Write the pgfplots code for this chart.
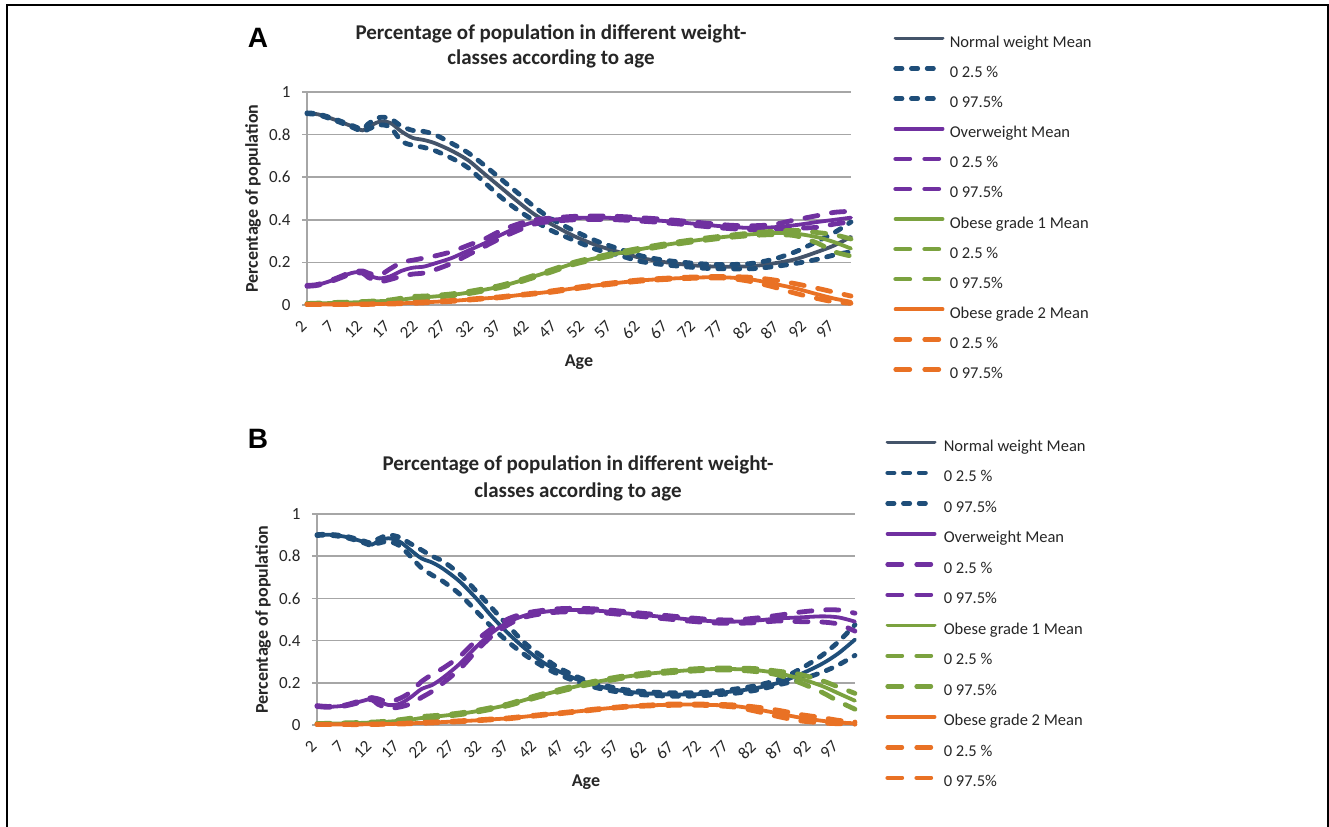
\documentclass[border=0pt]{standalone}
\usepackage{pgfplots}
\usepackage{pgfplotstable}
\pgfplotsset{compat=1.18}
\usepackage{fontspec}
\setmainfont{Carlito}
\newfontfamily\arialfont{Liberation Sans}

\definecolor{nmean}{HTML}{44546A}
\definecolor{nblue}{HTML}{1F4E79}
\definecolor{opurp}{HTML}{7030A0}
\definecolor{ggreen}{HTML}{7BA23F}
\definecolor{rorange}{HTML}{E97124}
\definecolor{gridc}{HTML}{A6A6A6}
\definecolor{txt}{HTML}{262626}

% age, normal mean/low/up, overweight mean/low/up, obese1 mean/low/up, obese2 mean/low/up
\pgfplotstableread{
age nm nl nu om ol ou gm gl gu rm rl ru
2 .900 .898 .902 .090 .088 .092 .005 .003 .007 .003 .002 .004
4 .895 .893 .897 .095 .093 .097 .007 .005 .009 .003 .002 .004
7 .870 .867 .873 .120 .117 .123 .010 .008 .012 .003 .002 .004
10 .840 .836 .844 .150 .146 .154 .012 .010 .014 .003 .002 .004
12 .820 .815 .826 .155 .150 .160 .014 .012 .016 .004 .003 .005
13 .835 .825 .850 .140 .130 .150 .015 .013 .017 .004 .003 .005
15 .860 .845 .880 .125 .110 .140 .018 .015 .021 .005 .004 .006
17 .855 .835 .875 .135 .120 .170 .020 .017 .024 .006 .005 .007
19 .815 .770 .840 .160 .135 .200 .025 .020 .032 .008 .006 .010
21 .785 .750 .820 .175 .145 .210 .032 .025 .040 .010 .008 .012
23 .775 .740 .815 .180 .150 .220 .036 .030 .042 .012 .010 .014
25 .760 .725 .800 .195 .165 .230 .040 .036 .045 .015 .013 .017
28 .725 .690 .760 .220 .195 .250 .047 .043 .052 .019 .017 .021
31 .680 .645 .715 .255 .235 .280 .058 .053 .063 .025 .023 .027
34 .615 .575 .655 .290 .275 .310 .072 .067 .077 .031 .029 .033
37 .550 .505 .590 .330 .315 .350 .088 .083 .093 .037 .035 .039
40 .485 .445 .525 .365 .350 .380 .110 .105 .115 .046 .044 .048
43 .425 .395 .460 .390 .380 .400 .135 .130 .140 .054 .052 .056
46 .380 .350 .405 .400 .392 .408 .160 .155 .165 .063 .060 .066
50 .325 .305 .350 .408 .400 .416 .195 .190 .200 .078 .075 .081
54 .282 .262 .302 .410 .402 .418 .220 .215 .225 .092 .089 .095
58 .250 .235 .265 .408 .400 .416 .242 .237 .247 .104 .101 .107
62 .222 .205 .232 .402 .394 .410 .262 .257 .267 .115 .112 .118
66 .203 .190 .212 .395 .387 .403 .280 .275 .285 .122 .119 .125
70 .190 .180 .200 .386 .378 .394 .296 .291 .301 .127 .124 .130
74 .182 .172 .192 .376 .368 .384 .310 .305 .315 .130 .127 .133
78 .180 .170 .190 .367 .359 .375 .322 .317 .327 .129 .125 .133
82 .182 .170 .195 .362 .354 .372 .332 .326 .338 .120 .110 .130
86 .195 .180 .215 .365 .355 .378 .338 .330 .346 .100 .085 .118
90 .215 .195 .250 .375 .360 .400 .335 .325 .350 .078 .055 .100
94 .250 .215 .300 .390 .365 .420 .318 .290 .340 .050 .030 .078
97 .280 .235 .340 .400 .380 .435 .295 .250 .330 .030 .015 .060
100 .320 .250 .390 .410 .390 .440 .265 .230 .310 .015 .008 .042
}\dataA

\pgfplotstableread{
age nm nl nu om ol ou gm gl gu rm rl ru
2 .900 .898 .902 .090 .088 .092 .005 .003 .007 .003 .002 .004
4 .902 .900 .904 .086 .084 .088 .006 .004 .008 .003 .002 .004
7 .893 .890 .896 .092 .090 .094 .008 .006 .010 .003 .002 .004
10 .872 .868 .876 .112 .108 .116 .010 .008 .012 .003 .002 .004
12 .855 .850 .862 .125 .120 .130 .012 .010 .014 .004 .003 .005
13 .870 .860 .880 .115 .100 .125 .013 .011 .015 .004 .003 .005
15 .885 .870 .900 .095 .080 .110 .016 .013 .019 .005 .004 .006
17 .870 .850 .890 .100 .085 .125 .020 .016 .025 .006 .005 .007
19 .830 .800 .860 .130 .100 .155 .025 .020 .032 .008 .006 .010
21 .790 .745 .830 .170 .130 .205 .033 .026 .040 .010 .008 .012
23 .770 .710 .800 .190 .160 .240 .038 .032 .044 .012 .010 .014
25 .740 .680 .775 .225 .200 .270 .044 .040 .048 .014 .012 .016
28 .680 .620 .715 .290 .265 .325 .053 .049 .057 .018 .016 .020
31 .600 .540 .635 .370 .350 .400 .065 .061 .069 .022 .020 .024
34 .510 .460 .550 .440 .425 .460 .080 .076 .084 .027 .025 .029
37 .430 .390 .465 .490 .478 .505 .097 .093 .101 .032 .030 .034
40 .360 .330 .385 .520 .512 .530 .120 .115 .125 .040 .038 .042
43 .300 .280 .325 .535 .527 .543 .142 .137 .147 .048 .046 .050
46 .255 .240 .272 .543 .535 .551 .162 .157 .167 .055 .053 .057
50 .210 .198 .222 .545 .537 .553 .188 .183 .193 .066 .064 .068
54 .180 .170 .190 .540 .532 .548 .210 .205 .215 .077 .075 .079
58 .160 .152 .168 .530 .522 .538 .228 .223 .233 .086 .084 .088
62 .150 .142 .158 .520 .512 .528 .242 .237 .247 .092 .090 .094
66 .145 .137 .153 .510 .502 .518 .252 .247 .257 .096 .093 .099
70 .145 .137 .153 .500 .492 .508 .260 .255 .265 .097 .094 .100
74 .150 .142 .158 .492 .484 .500 .265 .260 .270 .095 .092 .098
78 .160 .150 .170 .490 .482 .498 .265 .260 .270 .090 .085 .095
82 .175 .165 .187 .495 .485 .507 .260 .253 .267 .075 .065 .085
86 .200 .190 .215 .505 .493 .520 .245 .237 .255 .055 .040 .070
90 .240 .215 .265 .510 .490 .535 .220 .200 .240 .035 .020 .050
94 .290 .250 .330 .515 .488 .545 .185 .155 .210 .020 .010 .035
97 .340 .285 .395 .510 .478 .545 .150 .112 .180 .012 .006 .022
100 .405 .330 .475 .490 .445 .530 .115 .075 .150 .008 .004 .014
}\dataB

\pgfplotsset{
  meanline/.style={line width=1.9pt, line cap=round, smooth, tension=0.5},
  ndash/.style={line width=2.4pt, line cap=round, dash pattern=on 3.1pt off 4.75pt, smooth, tension=0.5},
  odash/.style={line width=2.4pt, line cap=round, dash pattern=on 6.6pt off 6.9pt, smooth, tension=0.5},
  lgmean/.style={line width=1.9pt, line cap=round},
  lgndash/.style={line width=2.2pt, line cap=round, dash pattern=on 3.3pt off 4.55pt},
  lgodash/.style={line width=2.2pt, line cap=round, dash pattern=on 7.2pt off 7.3pt},
  panel/.style={
    scale only axis, clip=false,
    xmin=2, xmax=100, ymin=0, ymax=1,
    axis lines=left,
    axis line style={draw=gridc, line width=0.75pt, -},
    ymajorgrids, grid style={draw=gridc, line width=0.75pt},
    xtick={2,7,...,97}, ytick={0,0.2,...,1},
    tick align=outside,
    major tick length=2.5pt,
    xtick style={draw=none},
    ytick style={draw=gridc, line width=0.75pt},
    /pgf/number format/assume math mode=true,
    tick label style={font=\fontsize{8.5}{9}\selectfont, text=txt},
    yticklabel style={inner sep=0pt, xshift=-5.5pt},
    xticklabel style={xshift=-1.5pt, yshift=-6.8pt, rotate=45, anchor=east, inner sep=0pt},
    ylabel={Percentage of population},
    xlabel={Age},
    legend cell align=left,
    legend image code/.code={\draw[##1] (0pt,2.5pt) -- (23.5pt,2.5pt);},
  },
}

\begin{document}
\begin{tikzpicture}
% frame, titles, panel letters (pixel units)
\begin{scope}[x=0.5pt,y=-0.5pt]
\useasboundingbox (0,0) rectangle (1329,826);
\draw[line width=1.35pt, black] (7,830) -- (7,5) -- (1328,5) -- (1328,830);
\node[font=\arialfont\bfseries\fontsize{14}{16}\selectfont] at (258,38) {A};
\node[font=\arialfont\bfseries\fontsize{14}{16}\selectfont] at (258,439) {B};
\node[font=\bfseries\fontsize{10.5}{12.5}\selectfont, text=txt, align=center] at (551,46) {Percentage of population in different weight-\\classes according to age};
\node[font=\bfseries\fontsize{10.5}{13.5}\selectfont, text=txt, align=center] at (578,478) {Percentage of population in different weight-\\classes according to age};
\end{scope}

% ---------------- Panel A ----------------
\begin{axis}[panel,
  at={(153.5pt,-152.5pt)}, anchor=south west,
  width=272pt, height=106.5pt,
  every axis y label/.style={at={(axis description cs:-0.0993,0.5)}, rotate=90, anchor=center, font=\bfseries\fontsize{9}{10}\selectfont, text=txt},
  every axis x label/.style={at={(axis description cs:0.5,-0.27)}, anchor=center, font=\bfseries\fontsize{9}{10}\selectfont, text=txt},
  legend style={at={(1.0772,1.2676)}, anchor=north west, draw=none, fill=none,
    inner sep=0pt, row sep=7.05pt, column sep=2.5pt,
    font=\fontsize{8.25}{9}\selectfont, text=txt,
    nodes={inner sep=0pt, text height=6pt, text depth=2pt}},
]
\addlegendimage{nmean, lgmean}
\addlegendentry{Normal weight Mean}
\addlegendimage{nblue, lgndash}
\addlegendentry{0 2.5 \%}
\addlegendimage{nblue, lgndash}
\addlegendentry{0 97.5\%}
\addlegendimage{opurp, lgmean}
\addlegendentry{Overweight Mean}
\addlegendimage{opurp, lgodash}
\addlegendentry{0 2.5 \%}
\addlegendimage{opurp, lgodash}
\addlegendentry{0 97.5\%}
\addlegendimage{ggreen, lgmean}
\addlegendentry{Obese grade 1 Mean}
\addlegendimage{ggreen, lgodash}
\addlegendentry{0 2.5 \%}
\addlegendimage{ggreen, lgodash}
\addlegendentry{0 97.5\%}
\addlegendimage{rorange, lgmean}
\addlegendentry{Obese grade 2 Mean}
\addlegendimage{rorange, lgodash}
\addlegendentry{0 2.5 \%}
\addlegendimage{rorange, lgodash}
\addlegendentry{0 97.5\%}

\addplot[nmean, meanline, forget plot] table[x=age, y=nm] {\dataA};
\addplot[nblue, ndash, forget plot] table[x=age, y=nl] {\dataA};
\addplot[nblue, ndash, forget plot] table[x=age, y=nu] {\dataA};
\addplot[opurp, meanline, forget plot] table[x=age, y=om] {\dataA};
\addplot[opurp, odash, forget plot] table[x=age, y=ol] {\dataA};
\addplot[opurp, odash, forget plot] table[x=age, y=ou] {\dataA};
\addplot[ggreen, meanline, forget plot] table[x=age, y=gm] {\dataA};
\addplot[ggreen, odash, forget plot] table[x=age, y=gl] {\dataA};
\addplot[ggreen, odash, forget plot] table[x=age, y=gu] {\dataA};
\addplot[rorange, meanline, forget plot] table[x=age, y=rm] {\dataA};
\addplot[rorange, odash, forget plot] table[x=age, y=rl] {\dataA};
\addplot[rorange, odash, forget plot] table[x=age, y=ru] {\dataA};
\end{axis}

% ---------------- Panel B ----------------
\begin{axis}[panel,
  at={(158.5pt,-362.5pt)}, anchor=south west,
  width=269pt, height=105.5pt,
  every axis y label/.style={at={(axis description cs:-0.1004,0.5)}, rotate=90, anchor=center, font=\bfseries\fontsize{9}{10}\selectfont, text=txt},
  every axis x label/.style={at={(axis description cs:0.5,-0.27)}, anchor=center, font=\bfseries\fontsize{9}{10}\selectfont, text=txt},
  legend style={at={(1.0558,1.3555)}, anchor=north west, draw=none, fill=none,
    inner sep=0pt, row sep=7.25pt, column sep=3.5pt,
    font=\fontsize{8.25}{9}\selectfont, text=txt,
    nodes={inner sep=0pt, text height=6pt, text depth=2pt}},
]
\addlegendimage{nmean, lgmean}
\addlegendentry{Normal weight Mean}
\addlegendimage{nblue, lgndash}
\addlegendentry{0 2.5 \%}
\addlegendimage{nblue, lgndash}
\addlegendentry{0 97.5\%}
\addlegendimage{opurp, lgmean}
\addlegendentry{Overweight Mean}
\addlegendimage{opurp, lgodash}
\addlegendentry{0 2.5 \%}
\addlegendimage{opurp, lgodash}
\addlegendentry{0 97.5\%}
\addlegendimage{ggreen, lgmean}
\addlegendentry{Obese grade 1 Mean}
\addlegendimage{ggreen, lgodash}
\addlegendentry{0 2.5 \%}
\addlegendimage{ggreen, lgodash}
\addlegendentry{0 97.5\%}
\addlegendimage{rorange, lgmean}
\addlegendentry{Obese grade 2 Mean}
\addlegendimage{rorange, lgodash}
\addlegendentry{0 2.5 \%}
\addlegendimage{rorange, lgodash}
\addlegendentry{0 97.5\%}

\addplot[nblue, meanline, forget plot] table[x=age, y=nm] {\dataB};
\addplot[nblue, ndash, forget plot] table[x=age, y=nl] {\dataB};
\addplot[nblue, ndash, forget plot] table[x=age, y=nu] {\dataB};
\addplot[opurp, meanline, forget plot] table[x=age, y=om] {\dataB};
\addplot[opurp, odash, forget plot] table[x=age, y=ol] {\dataB};
\addplot[opurp, odash, forget plot] table[x=age, y=ou] {\dataB};
\addplot[ggreen, meanline, forget plot] table[x=age, y=gm] {\dataB};
\addplot[ggreen, odash, forget plot] table[x=age, y=gl] {\dataB};
\addplot[ggreen, odash, forget plot] table[x=age, y=gu] {\dataB};
\addplot[rorange, meanline, forget plot] table[x=age, y=rm] {\dataB};
\addplot[rorange, odash, forget plot] table[x=age, y=rl] {\dataB};
\addplot[rorange, odash, forget plot] table[x=age, y=ru] {\dataB};
\end{axis}
\end{tikzpicture}
\end{document}
